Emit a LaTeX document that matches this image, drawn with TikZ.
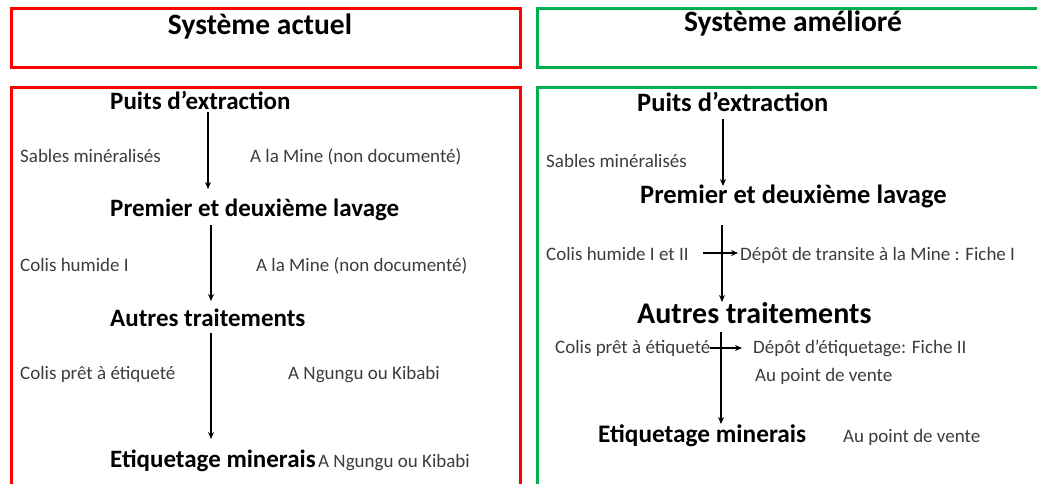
\documentclass[tikz,border=0pt]{standalone}
\usepackage{fontspec}
\setmainfont{Carlito}
\usetikzlibrary{arrows.meta}
\definecolor{boxred}{RGB}{255,0,0}
\definecolor{boxgreen}{RGB}{0,176,80}
\definecolor{lblgray}{RGB}{60,60,60}
\tikzset{
  redbox/.style={draw=boxred,line width=3pt},
  greenbox/.style={draw=boxgreen,line width=3pt},
  ttl/.style={font=\fontsize{29.5}{32}\selectfont\bfseries,inner sep=0pt},
  stepL/.style={font=\fontsize{25}{28}\selectfont\bfseries,inner sep=0pt,anchor=base west},
  stepR/.style={font=\fontsize{26.5}{30}\selectfont\bfseries,inner sep=0pt,anchor=base west},
  lbl/.style={font=\fontsize{19}{22}\selectfont,text=lblgray,inner sep=0pt,anchor=base west},
  arr/.style={line width=1.5pt,-{Stealth[length=7pt,width=6pt]}}
}
\begin{document}
\begin{tikzpicture}[x=1pt,y=-1pt]
\useasboundingbox (0,0) rectangle (1037,484);
\clip (0,0) rectangle (1037,484);
% frames
\draw[redbox] (11,9) rectangle (520,68);
\draw[redbox] (11,88) rectangle (520,490);
\draw[greenbox] (537,9) rectangle (1050,68);
\draw[greenbox] (537,88) rectangle (1050,490);
% titles
\node[ttl,anchor=base] (tL) at (260,35) {Système actuel};
\node[ttl,anchor=base] (tR) at (793,32) {Système amélioré};
% left column
\node[stepL] (puitsL) at (110,110) {Puits d’extraction};
\node[lbl] (sabL) at (20,163) {Sables minéralisés};
\node[lbl] (mineL1) at (250,163) {A la Mine (non documenté)};
\node[stepL] (lavL) at (110,216) {Premier et deuxième lavage};
\node[lbl] (colL1) at (20,271) {Colis humide I};
\node[lbl] (mineL2) at (256,271) {A la Mine (non documenté)};
\node[stepL] (autL) at (110,326) {Autres traitements};
\node[lbl] (colL2) at (20,379) {Colis prêt à étiqueté};
\node[lbl] (ngL1) at (288,379) {A Ngungu ou Kibabi};
\node[stepL] (etiqL) at (110,467) {Etiquetage minerais};
\node[lbl] (ngL2) at (318,467) {A Ngungu ou Kibabi};
\coordinate (a1s) at (208,112); \coordinate (a1e) at (208,189);
\coordinate (a2s) at (211,225); \coordinate (a2e) at (211,301);
\coordinate (a3s) at (211,333); \coordinate (a3e) at (211,439);
\draw[arr] (a1s) -- (a1e);
\draw[arr] (a2s) -- (a2e);
\draw[arr] (a3s) -- (a3e);
% right column
\node[stepR] (puitsR) at (637,112) {Puits d’extraction};
\node[lbl] (sabR) at (546,168) {Sables minéralisés};
\node[stepR] (lavR) at (640,204) {Premier et deuxième lavage};
\node[lbl] (colR1) at (546,260) {Colis humide I et II};
\node[lbl] (depR1) at (740,260) {Dépôt de transite à la Mine : Fiche I};
\node[stepR,font=\fontsize{30}{33}\selectfont\bfseries] (autR) at (637,323) {Autres traitements};
\node[lbl] (colR2) at (555,353) {Colis prêt à étiqueté};
\node[lbl] (depR2) at (753,353) {Dépôt d’étiquetage: Fiche II};
\node[lbl] (pvR1) at (755,381) {Au point de vente};
\node[stepR,font=\fontsize{25.3}{28}\selectfont\bfseries] (etiqR) at (598,442) {Etiquetage minerais};
\node[lbl] (pvR2) at (843,442) {Au point de vente};
\coordinate (b1s) at (723,119); \coordinate (b1e) at (723,186);
\coordinate (b2s) at (722,225); \coordinate (b2e) at (722,302);
\coordinate (b3s) at (721,332); \coordinate (b3e) at (721,424);
\draw[arr] (b1s) -- (b1e);
\draw[arr] (b2s) -- (b2e);
\draw[arr] (b3s) -- (b3e);
\coordinate (h1s) at (703,253);
\coordinate (h2s) at (710,348);
\draw[arr] (h1s) -- ([xshift=-2pt]depR1.west |- h1s);
\draw[arr] (h2s) -- ([xshift=-11pt]depR2.west |- h2s);
\end{tikzpicture}
\end{document}
